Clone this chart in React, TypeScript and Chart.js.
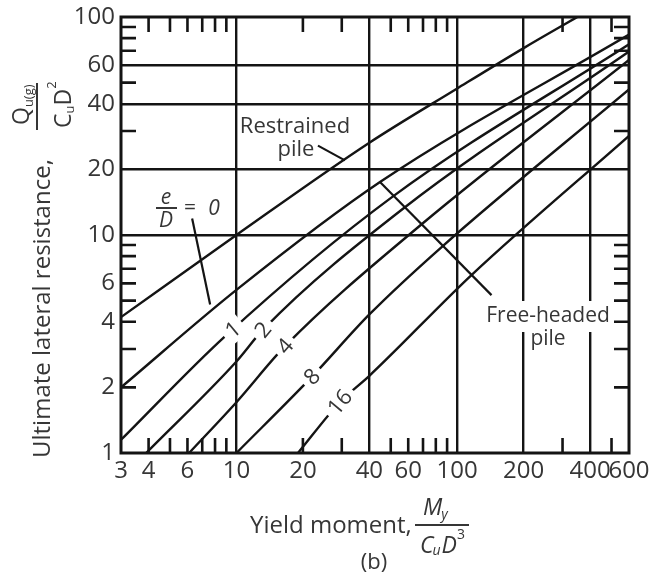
import React, { useEffect, useRef } from "react";
import { Chart, registerables } from "chart.js";
Chart.register(...registerables);

// ---- axes ----
const xTickValues = [3, 4, 6, 10, 20, 40, 60, 100, 200, 400, 600];
const yTickValues = [1, 2, 4, 6, 10, 20, 40, 60, 100];
const xGridValues = [10, 40, 100, 200, 400];
const yGridValues = [10, 20, 40, 60];
const xMinorTicks = [4, 5, 6, 7, 8, 9, 20, 30, 50, 60, 70, 80, 90, 300, 500];
const yMinorTicks = [2, 3, 4, 5, 6, 7, 8, 9, 30, 50, 70, 80, 90];

// ---- curves (My/CuD^3 , Qu/CuD^2) ----
const restrainedX = [3, 10, 40, 100, 200, 350];
const restrainedY = [4.2, 10, 26.5, 47, 72, 100];
const free0X = [3, 10, 44.7, 600];
const free0Y = [2, 5.6, 17.5, 83];
const free1X = [3, 8.9, 51, 600];
const free1Y = [1.15, 3.44, 15, 75];
const free2X = [3.9, 10, 13.2, 56.8, 600];
const free2Y = [1, 2.63, 3.68, 13.2, 69.5];
const free4X = [6.1, 10, 16.6, 69, 600];
const free4Y = [1, 1.71, 3.09, 11.2, 63.5];
const free8X = [10, 22, 40, 86, 600];
const free8Y = [1, 2.24, 4.32, 8.9, 46.5];
const free16X = [19, 29.4, 40, 117, 600];
const free16Y = [1, 1.71, 2.26, 6.6, 28.5];

// e/D labels written on curves 1..16
const eDLabels = ["1", "2", "4", "8", "16"];
const eDLabelX = [9.65, 13.2, 16.6, 22, 29.4];

// leader lines
const pointerE0X = [6.3, 7.6];
const pointerE0Y = [11.9, 4.8];
const pointerRestrainedX = [23.4, 31];
const pointerRestrainedY = [25.7, 22];
const pointerFreeX = [44.7, 143];
const pointerFreeY = [17.5, 5.3];

const INK = "#141414";
const TEXT = "#363636";
const FONT = '"Open Sans"';
const LW = 2.4;

const zip = (xs: number[], ys: number[]) => xs.map((x, i) => ({ x, y: ys[i] }));

const curveSeries = [
  [restrainedX, restrainedY],
  [free0X, free0Y],
  [free1X, free1Y],
  [free2X, free2Y],
  [free4X, free4Y],
  [free8X, free8Y],
  [free16X, free16Y],
];
const pointerSeries = [
  [pointerE0X, pointerE0Y],
  [pointerRestrainedX, pointerRestrainedY],
  [pointerFreeX, pointerFreeY],
];

function onLine(chart: any, dsIndex: number, xv: number) {
  const meta = chart.getDatasetMeta(dsIndex);
  const pts = meta.data.map((p: any) => ({ x: p.x, y: p.y }));
  const px = chart.scales.x.getPixelForValue(xv);
  for (let i = 0; i < pts.length - 1; i++) {
    const a = pts[i], b = pts[i + 1];
    if (px >= a.x && px <= b.x) {
      const t = (px - a.x) / (b.x - a.x);
      return { x: px, y: a.y + t * (b.y - a.y), angle: Math.atan2(b.y - a.y, b.x - a.x) };
    }
  }
  return null;
}

const annotPlugin = {
  id: "annot",
  afterDatasetsDraw(chart: any) {
    const ctx = chart.ctx;
    const { left, right, top, bottom } = chart.chartArea;
    const xs = chart.scales.x, ys = chart.scales.y;
    ctx.save();
    // frame
    ctx.strokeStyle = INK;
    ctx.lineWidth = 3;
    ctx.strokeRect(left, top, right - left, bottom - top);
    // inner minor ticks
    ctx.lineWidth = 2.6;
    const tl = 15;
    ctx.beginPath();
    xMinorTicks.forEach((v) => {
      const px = xs.getPixelForValue(v);
      ctx.moveTo(px, top); ctx.lineTo(px, top + tl);
      ctx.moveTo(px, bottom); ctx.lineTo(px, bottom - tl);
    });
    yMinorTicks.forEach((v) => {
      const py = ys.getPixelForValue(v);
      ctx.moveTo(left, py); ctx.lineTo(left + tl, py);
      ctx.moveTo(right, py); ctx.lineTo(right - tl, py);
    });
    ctx.stroke();

    // labels on e/D curves
    ctx.font = `22px ${FONT}`;
    ctx.textAlign = "center";
    ctx.textBaseline = "middle";
    eDLabels.forEach((lab, i) => {
      const p = onLine(chart, i + 2, eDLabelX[i]);
      if (!p) return;
      const w = ctx.measureText(lab).width;
      ctx.save();
      ctx.translate(p.x, p.y);
      ctx.rotate(p.angle);
      ctx.fillStyle = "#ffffff";
      ctx.fillRect(-w / 2 - 5, -12, w + 10, 24);
      ctx.fillStyle = TEXT;
      ctx.fillText(lab, 0, 1);
      ctx.restore();
    });

    // Restrained pile
    ctx.fillStyle = TEXT;
    ctx.font = `22px ${FONT}`;
    ctx.textAlign = "center";
    ctx.textBaseline = "alphabetic";
    ctx.fillText("Restrained", 295, 133);
    ctx.fillText("pile", 296, 156);

    // Free-headed pile
    ctx.fillStyle = "#ffffff";
    ctx.fillRect(485, 301, 128, 31);
    ctx.fillStyle = TEXT;
    ctx.font = `21px ${FONT}`;
    ctx.fillText("Free-headed", 548, 322);
    ctx.fillText("pile", 548, 345);

    // e/D = 0
    ctx.font = `italic 21px ${FONT}`;
    ctx.fillText("e", 166, 204);
    ctx.fillText("D", 166, 227);
    ctx.fillRect(156, 207, 21, 2);
    ctx.font = `21px ${FONT}`;
    ctx.fillText("=", 190, 214);
    ctx.font = `italic 21px ${FONT}`;
    ctx.fillText("0", 214, 215);
    ctx.restore();
  },
  afterDraw(chart: any) {
    const ctx = chart.ctx;
    ctx.save();
    ctx.fillStyle = TEXT;
    ctx.textBaseline = "alphabetic";
    // ---- Y title (rotated) ----
    const rot = (txt: string, sx: number, sy: number, font: string) => {
      ctx.save();
      ctx.translate(sx, sy);
      ctx.rotate(-Math.PI / 2);
      ctx.font = font;
      ctx.textAlign = "left";
      ctx.fillText(txt, 0, 0);
      const w = ctx.measureText(txt).width;
      ctx.restore();
      return w;
    };
    rot("Ultimate lateral resistance,", 50, 458, `24px ${FONT}`);
    ctx.fillRect(36, 83, 2, 47);
    // numerator Q_u(g)
    let y = 125;
    y -= rot("Q", 29, y, `23px ${FONT}`);
    rot("u(g)", 33, y, `13px ${FONT}`);
    // denominator C_u D^2
    y = 128;
    y -= rot("C", 71, y, `23px ${FONT}`);
    y -= rot("u", 74, y, `13px ${FONT}`);
    y -= rot("D", 71, y, `23px ${FONT}`);
    rot("2", 56, y, `13px ${FONT}`);

    // ---- X title ----
    ctx.textAlign = "left";
    ctx.font = `24px ${FONT}`;
    ctx.fillText("Yield moment,", 250, 533);
    ctx.fillRect(415, 524, 54, 2);
    let x = 423;
    ctx.font = `italic 23px ${FONT}`;
    ctx.fillText("M", x, 515);
    x += ctx.measureText("M").width;
    ctx.font = `italic 14px ${FONT}`;
    ctx.fillText("y", x - 1, 519);
    x = 420;
    ctx.font = `italic 23px ${FONT}`;
    ctx.fillText("C", x, 553);
    x += ctx.measureText("C").width;
    ctx.font = `italic 14px ${FONT}`;
    ctx.fillText("u", x - 1, 555);
    x += ctx.measureText("u").width;
    ctx.font = `italic 23px ${FONT}`;
    ctx.fillText("D", x, 553);
    x += ctx.measureText("D").width;
    ctx.font = `14px ${FONT}`;
    ctx.fillText("3", x, 539);
    ctx.textAlign = "center";
    ctx.font = `22px ${FONT}`;
    ctx.fillText("(b)", 374, 569);
    ctx.restore();
  },
};

export default function App() {
  const ref = useRef<HTMLCanvasElement | null>(null);
  useEffect(() => {
    document.body.style.margin = "0";
    const canvas = ref.current!;
    const curves = curveSeries.map(([xs, ys]) => ({
      data: zip(xs as number[], ys as number[]),
      showLine: true,
      borderColor: INK,
      borderWidth: LW,
      pointRadius: 0,
      fill: false,
      cubicInterpolationMode: "monotone",
    }));
    const pointers = pointerSeries.map(([xs, ys]) => ({
      data: zip(xs as number[], ys as number[]),
      showLine: true,
      borderColor: INK,
      borderWidth: 2.2,
      pointRadius: 0,
      fill: false,
      tension: 0,
    }));
    const chart = new Chart(canvas, {
      type: "scatter",
      data: { datasets: [...curves, ...pointers] },
      options: {
        animation: false,
        responsive: false,
        maintainAspectRatio: false,
        devicePixelRatio: 1,
        events: [],
        layout: { padding: { left: 0, top: 17, right: 27, bottom: 0 } },
        plugins: { legend: { display: false }, tooltip: { enabled: false } },
        scales: {
          x: {
            type: "logarithmic",
            min: 3,
            max: 600,
            afterBuildTicks: (s: any) => {
              s.ticks = xTickValues.map((v) => ({ value: v }));
            },
            afterFit: (s: any) => {
              s.height = 123;
              s.paddingLeft = 0;
              s.paddingRight = 0;
            },
            ticks: {
              autoSkip: false,
              maxRotation: 0,
              minRotation: 0,
              padding: 4,
              color: TEXT,
              font: { family: "Open Sans", size: 24 },
              callback: (v: any) => String(v),
            },
            grid: {
              color: (c: any) => (c.tick && xGridValues.includes(c.tick.value) ? INK : "rgba(0,0,0,0)"),
              lineWidth: LW,
              drawTicks: false,
            },
            border: { display: false },
          },
          y: {
            type: "logarithmic",
            min: 1,
            max: 100,
            afterBuildTicks: (s: any) => {
              s.ticks = yTickValues.map((v) => ({ value: v }));
            },
            afterFit: (s: any) => {
              s.width = 121;
              s.paddingTop = 0;
              s.paddingBottom = 0;
            },
            ticks: {
              autoSkip: false,
              padding: 6,
              color: TEXT,
              font: { family: "Open Sans", size: 24 },
              callback: (v: any) => String(v),
            },
            grid: {
              color: (c: any) => (c.tick && yGridValues.includes(c.tick.value) ? INK : "rgba(0,0,0,0)"),
              lineWidth: LW,
              drawTicks: false,
            },
            border: { display: false },
          },
        },
      } as any,
      plugins: [annotPlugin as any],
    });
    return () => chart.destroy();
  }, []);
  return (
    <div style={{ width: 656, height: 576, background: "#fff" }}>
      <canvas ref={ref} width={656} height={576} style={{ display: "block" }} />
    </div>
  );
}
